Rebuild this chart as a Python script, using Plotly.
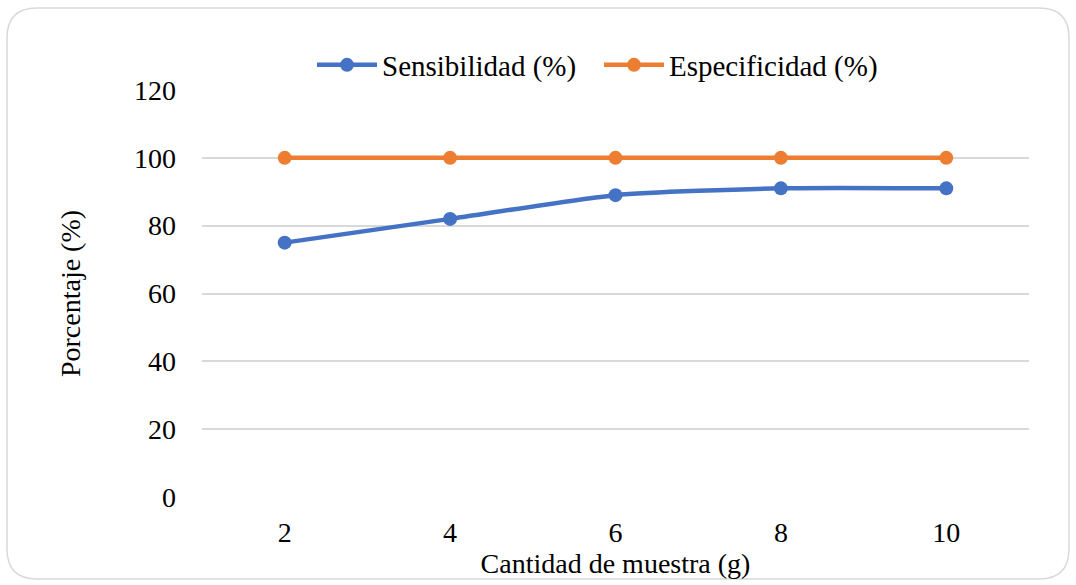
import plotly.graph_objects as go

cantidad = ["2", "4", "6", "8", "10"]
sensibilidad = [75, 82, 89, 91, 91]
especificidad = [100, 100, 100, 100, 100]
y_ticks = [0, 20, 40, 60, 80, 100, 120]

W, H = 1076, 585
L, R, T, B = 202, 47, 90, 88
pw, ph = W - L - R, H - T - B

def px(x):
    return (x - L) / pw

def py(y):
    return (H - B - y) / ph

font = "Liberation Serif"
f28 = dict(family=font, size=28, color="#000000")
f29 = dict(family=font, size=29, color="#000000")

fig = go.Figure()
fig.add_trace(go.Scatter(x=cantidad, y=sensibilidad, name="Sensibilidad (%)",
                         mode="lines+markers", line=dict(color="#4472C4", width=4.5, shape="spline", smoothing=0.6),
                         marker=dict(size=14, color="#4472C4")))
fig.add_trace(go.Scatter(x=cantidad, y=especificidad, name="Especificidad (%)",
                         mode="lines+markers", line=dict(color="#ED7D31", width=4.5),
                         marker=dict(size=14, color="#ED7D31")))

# rounded border
x0, x1, y0, y1, r = 7, 1069, 8, 579, 30
path = (f"M {px(x0+r)},{py(y0)} L {px(x1-r)},{py(y0)} Q {px(x1)},{py(y0)} {px(x1)},{py(y0+r)} "
        f"L {px(x1)},{py(y1-r)} Q {px(x1)},{py(y1)} {px(x1-r)},{py(y1)} "
        f"L {px(x0+r)},{py(y1)} Q {px(x0)},{py(y1)} {px(x0)},{py(y1-r)} "
        f"L {px(x0)},{py(y0+r)} Q {px(x0)},{py(y0)} {px(x0+r)},{py(y0)} Z")

fig.update_layout(
    width=W, height=H,
    margin=dict(l=L, r=R, t=T, b=B),
    paper_bgcolor="white", plot_bgcolor="white",
    font=f28,
    showlegend=True,
    legend=dict(orientation="h", x=px(312), xanchor="left", y=py(65), yanchor="middle",
                font=f29, itemwidth=60, traceorder="normal",
                entrywidth=212, entrywidthmode="pixels"),
    xaxis=dict(type="category", range=[-0.5, 4.5], showgrid=False, zeroline=False,
               showline=False, ticks="", tickfont=f28, ticklabelstandoff=16,
               title=dict(text="Cantidad de muestra (g)", font=f28, standoff=0)),
    yaxis=dict(range=[0, 120], tickvals=y_ticks, showgrid=True, gridcolor="#D9D9D9",
               gridwidth=1.5, zeroline=False, showline=False, ticks="", tickfont=f28,
               ticklabelstandoff=25,
               title=dict(text="Porcentaje (%)", font=f28, standoff=45)),
    shapes=[dict(type="path", path=path, xref="paper", yref="paper",
                 line=dict(color="#D9D9D9", width=1.5), fillcolor="rgba(0,0,0,0)", layer="below")],
)

fig.write_html("out.html", config={"displayModeBar": False},
               post_script="document.body.style.margin='0';")
